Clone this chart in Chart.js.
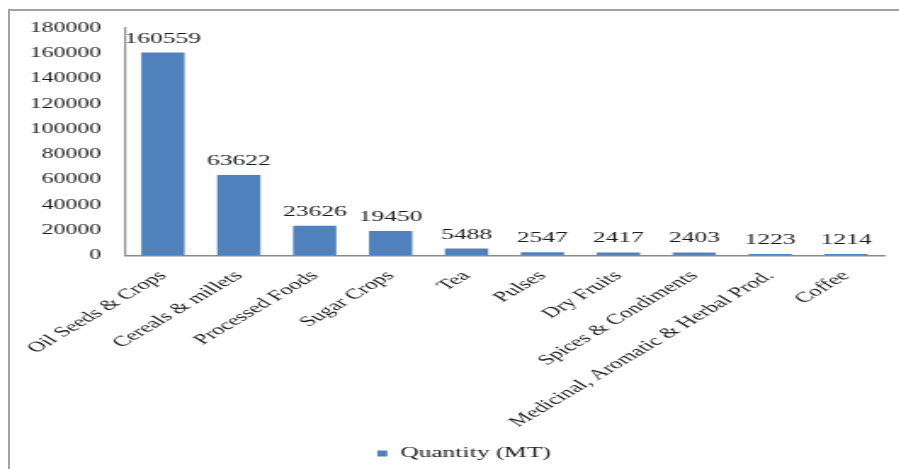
<!DOCTYPE html>
<html>
<head>
<meta charset="utf-8">
<script src="https://cdn.jsdelivr.net/npm/chart.js@4"></script>
<style>
  html, body { margin: 0; padding: 0; background: #fff; overflow: hidden; }
  #frame {
    position: absolute; left: 8px; top: 9px; width: 1000px; height: 600px;
    border-left: 2px solid #a3a3a3; border-top: 2px solid #a3a3a3;
  }
  /* the original picture is stretched sideways, so the chart is too */
  #wrap {
    position: absolute; left: 0; top: 0; width: 529px; height: 469px;
    transform: scaleX(1.7); transform-origin: 0 0;
  }
</style>
</head>
<body>
<div id="frame"></div>
<div id="wrap"><canvas id="grafico"></canvas></div>
<script>
const categories = [
  "Oil Seeds & Crops", "Cereals & millets", "Processed Foods", "Sugar Crops", "Tea",
  "Pulses", "Dry Fruits", "Spices & Condiments", "Medicinal, Aromatic & Herbal Prod.", "Coffee"
];
const quantities = [160559, 63622, 23626, 19450, 5488, 2547, 2417, 2403, 1223, 1214];
const seriesName = "Quantity (MT)";
const yTicks = [0, 20000, 40000, 60000, 80000, 100000, 120000, 140000, 160000, 180000];

const serif = '"Liberation Serif", "Times New Roman", serif';
const inkColor = '#1a1a1a';
const barColor = '#4f81bd';
const axisColor = '#8a8a8a';

// values written above each bar
const valueLabels = {
  id: 'valueLabels',
  afterDatasetsDraw(chart) {
    const ctx = chart.ctx;
    const meta = chart.getDatasetMeta(0);
    ctx.save();
    ctx.font = '15px ' + serif;
    ctx.fillStyle = inkColor;
    ctx.textAlign = 'center';
    ctx.textBaseline = 'alphabetic';
    meta.data.forEach((bar, i) => {
      ctx.fillText(String(quantities[i]), bar.x, bar.y - 10);
    });
    ctx.restore();
  }
};

// legend sits a little right of centre in the original
const legendNudge = {
  id: 'legendNudge',
  afterLayout(chart) {
    const lg = chart.legend;
    lg.left += 13; lg.right += 13;
    lg.top += 2; lg.bottom += 2;
  }
};

new Chart(document.getElementById('grafico'), {
  type: 'bar',
  data: {
    labels: categories,
    datasets: [{
      label: seriesName,
      data: quantities,
      backgroundColor: barColor,
      borderWidth: 0,
      categoryPercentage: 1,
      barPercentage: 0.57
    }]
  },
  options: {
    responsive: true,
    maintainAspectRatio: false,
    animation: false,
    layout: { padding: { top: 28, right: 9, bottom: 0, left: 0 } },
    scales: {
      x: {
        grid: { display: true, drawOnChartArea: false, drawTicks: false },
        border: { display: true, color: axisColor, width: 1.5 },
        ticks: {
          autoSkip: false,
          minRotation: 45,
          maxRotation: 45,
          padding: 12,
          color: inkColor,
          font: { family: serif, size: 14.5 }
        },
        afterFit(scale) { scale.height = 178.5; }
      },
      y: {
        min: 0,
        max: 180000,
        afterBuildTicks(scale) { scale.ticks = yTicks.map(v => ({ value: v })); },
        grid: { display: true, drawOnChartArea: false, drawTicks: false },
        border: { display: true, color: axisColor, width: 1.2 },
        ticks: {
          padding: 14,
          color: inkColor,
          font: { family: serif, size: 14 },
          callback: (v) => String(v)
        },
        afterFit(scale) { scale.width = 73.5; }
      }
    },
    plugins: {
      legend: {
        position: 'bottom',
        labels: {
          boxWidth: 6,
          boxHeight: 6,
          color: inkColor,
          font: { family: serif, size: 15 }
        }
      },
      tooltip: { enabled: false }
    }
  },
  plugins: [valueLabels, legendNudge]
});
</script>
</body>
</html>
